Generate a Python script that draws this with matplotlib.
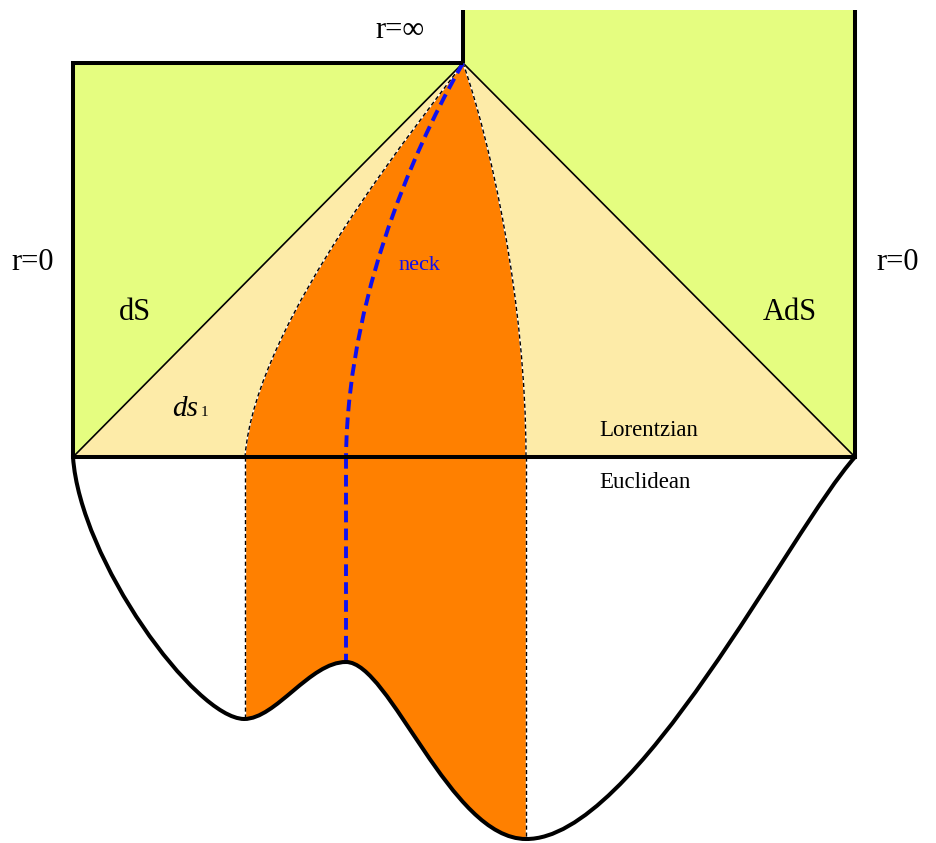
import matplotlib
matplotlib.use("Agg")
import matplotlib.pyplot as plt
from matplotlib.path import Path
from matplotlib.patches import PathPatch, Polygon, Rectangle

W, H = 936, 843
GREEN = "#E5FD80"
BEIGE = "#FDEBA8"
ORANGE = "#FF8000"
BLUE = "#1010F0"
SERIF = ["Liberation Serif", "DejaVu Serif"]

# key diagram points (pixel-like coordinates, y downward)
apex = (463, 63)
left_x, right_x = 73, 855
horizon_y = 457
top_right_y = 10

# Euclidean boundary: cubic Bezier control points
bottom_curve = [(73, 457), (80, 560), (195, 718), (244, 719),
                (276, 719), (310, 662), (346, 662),
                (390, 662), (450, 839), (526, 839),
                (635, 840), (790, 530), (855, 457)]
# Lorentzian branches (cubic Bezier)
left_branch = [(463, 63), (430, 110), (255, 320), (245, 457)]
right_branch = [(463, 63), (490, 140), (526, 300), (526, 457)]
neck_branch = [(463, 63), (430, 120), (348, 280), (346, 457)]
neck_bottom = (346, 662)
left_bottom = (245, 719)
right_bottom = (526, 839)

labels = [
    ("r=∞", 400, 30, 22, "black"),
    ("r=0", 33, 262, 22, "black"),
    ("r=0", 898, 262, 22, "black"),
    ("dS", 135, 313, 22, "black"),
    ("AdS", 790, 312, 22, "black"),
    ("neck", 419, 265, 16, BLUE),
    ("Lorentzian", 649, 431, 16.5, "black"),
    ("Euclidean", 645, 483, 16.5, "black"),
]

fig = plt.figure(figsize=(W / 100, H / 100), dpi=100)
ax = fig.add_axes([0, 0, 1, 1])
ax.set_xlim(0, W)
ax.set_ylim(H, 0)
ax.axis("off")

LW_THICK = 2.9
LW_THIN = 1.2


def bez_path(pts):
    codes = [Path.MOVETO] + [Path.CURVE4] * (len(pts) - 1)
    return Path(list(pts), codes)


# green regions
ax.add_patch(Polygon([(left_x, apex[1]), apex, (left_x, horizon_y)],
                     closed=True, fc=GREEN, ec="none", zorder=1))
ax.add_patch(Polygon([(apex[0], top_right_y), (right_x, top_right_y),
                      (right_x, horizon_y), apex],
                     closed=True, fc=GREEN, ec="none", zorder=1))
# beige Lorentzian triangle
ax.add_patch(Polygon([(left_x, horizon_y), apex, (right_x, horizon_y)],
                     closed=True, fc=BEIGE, ec="none", zorder=1))

# orange Lorentzian region
verts = list(left_branch) + [right_branch[-1]] + [right_branch[2], right_branch[1],
                                                 right_branch[0], right_branch[0]]
codes = [Path.MOVETO, Path.CURVE4, Path.CURVE4, Path.CURVE4, Path.LINETO,
         Path.CURVE4, Path.CURVE4, Path.CURVE4, Path.CLOSEPOLY]
ax.add_patch(PathPatch(Path(verts, codes), fc=ORANGE, ec="none", zorder=2))

# Euclidean region (closed by horizon line)
eu_verts = list(bottom_curve) + [bottom_curve[0]]
eu_codes = [Path.MOVETO] + [Path.CURVE4] * (len(bottom_curve) - 1) + [Path.CLOSEPOLY]
eu_patch = PathPatch(Path(eu_verts, eu_codes), fc="white", ec="none", zorder=1)
ax.add_patch(eu_patch)
orange_rect = Rectangle((left_branch[-1][0], horizon_y),
                        right_branch[-1][0] - left_branch[-1][0],
                        H - horizon_y, fc=ORANGE, ec="none", zorder=2)
ax.add_patch(orange_rect)
orange_rect.set_clip_path(eu_patch)

# thin diagonals
ax.plot([left_x, apex[0], right_x], [horizon_y, apex[1], horizon_y],
        color="black", lw=LW_THIN, zorder=3)

# dashed boundaries (white underlay + black dashes)
DASH = (0, (3, 2))
for pts in (left_branch, right_branch):
    ax.add_patch(PathPatch(bez_path(pts), fc="none", ec="white", lw=1.0, zorder=3))
    ax.add_patch(PathPatch(bez_path(pts), fc="none", ec="black", lw=1.0,
                           ls=DASH, zorder=4))
for (x, y0, y1) in [(left_branch[-1][0], horizon_y, left_bottom[1]),
                    (right_branch[-1][0], horizon_y, right_bottom[1])]:
    ax.plot([x, x], [y0, y1], color="white", lw=1.0, zorder=3)
    ax.plot([x, x], [y0, y1], color="black", lw=1.0, ls=DASH, zorder=4)

# neck (blue dashed)
ax.add_patch(PathPatch(bez_path(neck_branch), fc="none", ec=BLUE, lw=2.8,
                       ls=(0, (3, 1.6)), zorder=5))
ax.plot([neck_bottom[0], neck_bottom[0]], [horizon_y, neck_bottom[1]],
        color=BLUE, lw=2.8, ls=(0, (3, 1.6)), zorder=5)

# thick black outlines
ax.plot([left_x, left_x, apex[0]], [horizon_y, apex[1], apex[1]],
        color="black", lw=LW_THICK, zorder=6, solid_joinstyle="miter",
        solid_capstyle="butt")
ax.plot([apex[0], apex[0]], [apex[1], top_right_y], color="black", lw=LW_THICK,
        zorder=6, solid_capstyle="butt")
ax.plot([right_x, right_x], [top_right_y, horizon_y], color="black", lw=LW_THICK,
        zorder=6, solid_capstyle="butt")
ax.plot([left_x, right_x], [horizon_y, horizon_y], color="black", lw=LW_THICK, zorder=6)
ax.add_patch(PathPatch(bez_path(bottom_curve), fc="none", ec="black",
                       lw=LW_THICK, zorder=6))

# labels
for txt, x, y, fs, col in labels:
    ax.text(x, y, txt, ha="center", va="center", fontsize=fs, color=col,
            family=SERIF, zorder=7)
ax.text(185, 409, "ds", ha="center", va="center", fontsize=21, style="italic",
        family=SERIF, zorder=7)
ax.text(204, 413, "1", ha="center", va="center", fontsize=11, family=SERIF, zorder=7)

fig.savefig("out.png", dpi=100)
